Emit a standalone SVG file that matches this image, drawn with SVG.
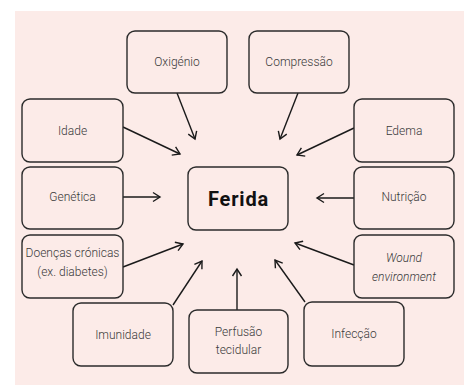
<svg xmlns="http://www.w3.org/2000/svg" width="464" height="385" viewBox="0 0 464 385">
<defs>
<style>
.bg{fill:#fcebe8}
.box{fill:#fcebe8;stroke:#2b2b2b;stroke-width:1.4}
.t{font-family:Roboto,"Liberation Sans",sans-serif;font-weight:300;font-size:12px;fill:#3a3a3a;text-anchor:middle;dominant-baseline:central}
.it{font-style:italic}
.main{font-family:Roboto,"Liberation Sans",sans-serif;font-weight:700;font-size:20px;letter-spacing:0.8px;fill:#111;text-anchor:middle;dominant-baseline:central}
.c{stroke:#1a1a1a;stroke-width:1.4;fill:none;marker-end:url(#ah)}
</style>
<marker id="ah" markerUnits="userSpaceOnUse" markerWidth="12" markerHeight="12" refX="9" refY="6" orient="auto">
<path d="M2,1.5 L9,6 L2,10.5" fill="none" stroke="#1a1a1a" stroke-width="1.4"/>
</marker>
</defs>
<rect class="bg" x="15" y="11" width="449" height="374"/>
<g id="connectors">
<line class="c" x1="177" y1="93" x2="195" y2="139"/>
<line class="c" x1="298" y1="93" x2="280" y2="139"/>
<line class="c" x1="123" y1="127" x2="180" y2="154"/>
<line class="c" x1="354" y1="128" x2="297" y2="155"/>
<line class="c" x1="123" y1="197" x2="160" y2="197"/>
<line class="c" x1="354" y1="198" x2="317" y2="198"/>
<line class="c" x1="123" y1="267" x2="183" y2="244"/>
<line class="c" x1="354" y1="265" x2="295" y2="243"/>
<line class="c" x1="173" y1="305" x2="202" y2="261"/>
<line class="c" x1="305" y1="302" x2="275" y2="260"/>
<line class="c" x1="237" y1="310" x2="237" y2="269"/>
</g>
<g id="ferida"><rect class="box" x="188" y="167" width="100" height="63" rx="8"/><text class="main" x="238.5" y="198.5">Ferida</text></g>
<g id="oxigenio"><rect class="box" x="127" y="31" width="100" height="62" rx="8"/><text class="t" x="177" y="62">Oxigénio</text></g>
<g id="compressao"><rect class="box" x="249" y="31" width="100" height="62" rx="8"/><text class="t" x="299" y="62">Compressão</text></g>
<g id="idade"><rect class="box" x="22" y="99" width="101" height="63" rx="8"/><text class="t" x="72.5" y="130.5">Idade</text></g>
<g id="edema"><rect class="box" x="354" y="99" width="100" height="63" rx="8"/><text class="t" x="404" y="130.5">Edema</text></g>
<g id="genetica"><rect class="box" x="22" y="167" width="101" height="62" rx="8"/><text class="t" x="72.5" y="197">Genética</text></g>
<g id="nutricao"><rect class="box" x="354" y="167" width="100" height="62" rx="8"/><text class="t" x="404" y="197">Nutrição</text></g>
<g id="doencas"><rect class="box" x="22" y="235" width="101" height="63" rx="8"/><text class="t" x="72.5" y="253">Doenças crónicas</text><text class="t" x="72.5" y="272">(ex. diabetes)</text></g>
<g id="wound"><rect class="box" x="354" y="235" width="100" height="63" rx="8"/><text class="t it" x="404" y="258">Wound</text><text class="t it" x="404" y="277">environment</text></g>
<g id="imunidade"><rect class="box" x="73" y="303" width="100" height="63" rx="8"/><text class="t" x="123" y="334.5">Imunidade</text></g>
<g id="perfusao"><rect class="box" x="189" y="310" width="99" height="63" rx="8"/><text class="t" x="238.5" y="332">Perfusão</text><text class="t" x="238.5" y="350">tecidular</text></g>
<g id="infeccao"><rect class="box" x="304" y="302" width="100" height="64" rx="8"/><text class="t" x="354" y="334">Infecção</text></g>
</svg>
